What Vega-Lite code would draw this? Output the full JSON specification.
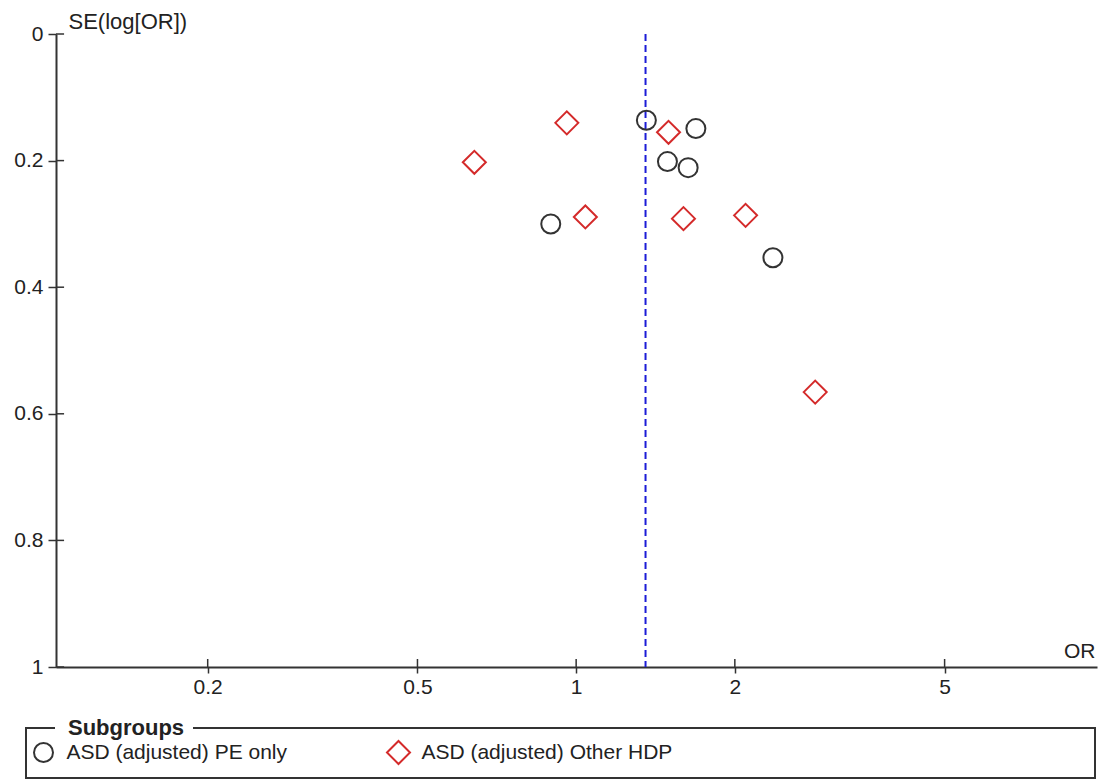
{
  "$schema": "https://vega.github.io/schema/vega-lite/v6.json",
  "width": 1041,
  "height": 633,
  "autosize": {"type": "none"},
  "padding": {"left": 56, "top": 34, "right": 5, "bottom": 112},
  "background": "white",
  "config": {"view": {"stroke": null}, "font": "Liberation Sans"},
  "datasets": {
    "studies": [
      {"group": "ASD (adjusted) PE only", "or": 1.359, "se": 0.1363},
      {"group": "ASD (adjusted) PE only", "or": 1.687, "se": 0.1494},
      {"group": "ASD (adjusted) PE only", "or": 1.490, "se": 0.2016},
      {"group": "ASD (adjusted) PE only", "or": 1.631, "se": 0.2111},
      {"group": "ASD (adjusted) PE only", "or": 0.895, "se": 0.3001},
      {"group": "ASD (adjusted) PE only", "or": 2.362, "se": 0.3534},
      {"group": "ASD (adjusted) Other HDP", "or": 0.960, "se": 0.1404},
      {"group": "ASD (adjusted) Other HDP", "or": 1.497, "se": 0.1553},
      {"group": "ASD (adjusted) Other HDP", "or": 0.641, "se": 0.2027},
      {"group": "ASD (adjusted) Other HDP", "or": 1.041, "se": 0.2890},
      {"group": "ASD (adjusted) Other HDP", "or": 1.598, "se": 0.2917},
      {"group": "ASD (adjusted) Other HDP", "or": 2.096, "se": 0.2865},
      {"group": "ASD (adjusted) Other HDP", "or": 2.841, "se": 0.5657}
    ],
    "xticks": [{"v": 0.2}, {"v": 0.5}, {"v": 1}, {"v": 2}, {"v": 5}],
    "yticks": [{"v": 0}, {"v": 0.2}, {"v": 0.4}, {"v": 0.6}, {"v": 0.8}, {"v": 1}]
  },
  "layer": [
    {
      "data": {"name": "xticks"},
      "mark": {"type": "rule", "color": "#333333", "strokeWidth": 1.5},
      "encoding": {
        "x": {"field": "v", "type": "quantitative"},
        "y": {"datum": 0.98736, "type": "quantitative"},
        "y2": {"datum": 1}
      }
    },
    {
      "data": {"name": "yticks"},
      "mark": {"type": "rule", "color": "#333333", "strokeWidth": 1.5},
      "encoding": {
        "y": {"field": "v", "type": "quantitative"},
        "x": {"datum": 0.1031, "type": "quantitative"},
        "x2": {"datum": 0.1068}
      }
    },
    {
      "data": {"values": [{"pooled": 1.354}]},
      "mark": {"type": "rule", "color": "#1c1cd6", "strokeWidth": 2, "strokeDash": [7, 4]},
      "encoding": {
        "x": {"field": "pooled", "type": "quantitative"},
        "y": {"datum": 0, "type": "quantitative"},
        "y2": {"datum": 1}
      }
    },
    {
      "data": {"name": "studies"},
      "mark": {"type": "point", "filled": false, "strokeWidth": 2, "opacity": 1},
      "encoding": {
        "x": {
          "field": "or",
          "type": "quantitative",
          "scale": {"type": "log", "domain": [0.1031, 9.729], "nice": false},
          "axis": {
            "values": [0.2, 0.5, 1, 2, 5],
            "format": "~g",
            "grid": false,
            "domainColor": "#333333",
            "domainWidth": 2,
            "tickColor": "#333333",
            "tickWidth": 1.5,
            "tickSize": 6,
            "labelPadding": 3,
            "labelFontSize": 21,
            "labelColor": "#222222",
            "labelFont": "Liberation Sans",
            "title": "OR",
            "titleFont": "Liberation Sans",
            "titleFontSize": 21,
            "titleFontWeight": "normal",
            "titleColor": "#222222",
            "titleAlign": "right",
            "titleBaseline": "alphabetic",
            "titleAnchor": null,
            "titleX": 1039,
            "titleY": -10
          }
        },
        "y": {
          "field": "se",
          "type": "quantitative",
          "scale": {"domain": [0, 1], "reverse": true, "nice": false, "zero": false},
          "axis": {
            "values": [0, 0.2, 0.4, 0.6, 0.8, 1],
            "format": "~g",
            "grid": false,
            "domainColor": "#333333",
            "domainWidth": 2,
            "tickColor": "#333333",
            "tickWidth": 1.5,
            "tickSize": 8,
            "labelPadding": 5,
            "labelFontSize": 21,
            "labelColor": "#222222",
            "labelFont": "Liberation Sans",
            "title": "SE(log[OR])",
            "titleFont": "Liberation Sans",
            "titleFontSize": 22,
            "titleFontWeight": "normal",
            "titleColor": "#222222",
            "titleAngle": 0,
            "titleAlign": "left",
            "titleBaseline": "alphabetic",
            "titleAnchor": null,
            "titleX": 12,
            "titleY": -6
          }
        },
        "color": {
          "field": "group",
          "type": "nominal",
          "scale": {"domain": ["ASD (adjusted) PE only", "ASD (adjusted) Other HDP"], "range": ["#333333", "#d42a2a"]},
          "legend": {
            "title": "Subgroups",
            "orient": "none",
            "legendX": -30,
            "legendY": 694,
            "direction": "horizontal",
            "columns": 2,
            "columnPadding": 95,
            "padding": 10,
            "titlePadding": -20,
            "titleFont": "Liberation Sans",
            "titleFontSize": 22,
            "titleFontWeight": "bold",
            "titleColor": "#222222",
            "titleBaseline": "middle",
            "titleAnchor": "start",
            "labelFont": "Liberation Sans",
            "labelFontSize": 21,
            "labelColor": "#222222",
            "labelLimit": 3000,
            "labelOffset": 10.4,
            "labelExpr": "indexof(datum.label, 'Other') >= 0 ? pad(datum.label, 92, '\u00a0') + '\u2800' : datum.label",
            "symbolOffset": -5,
            "symbolStrokeWidth": 2,
            "strokeColor": "#333333",
            "encoding": {
              "legend": {"strokeWidth": {"value": 2}, "strokeDash": {"value": [29, 138, 5000]}},
              "title": {"dx": {"value": 32}, "dy": {"value": -10}}
            }
          }
        },
        "shape": {
          "field": "group",
          "type": "nominal",
          "scale": {"domain": ["ASD (adjusted) PE only", "ASD (adjusted) Other HDP"], "range": ["circle", "diamond"]}
        },
        "size": {
          "field": "group",
          "type": "nominal",
          "scale": {"domain": ["ASD (adjusted) PE only", "ASD (adjusted) Other HDP"], "range": [361, 529]}
        }
      }
    }
  ]
}
